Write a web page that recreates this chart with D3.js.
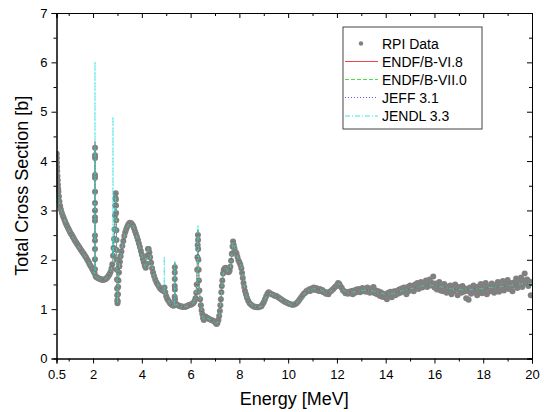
<!DOCTYPE html>
<html>
<head>
<meta charset="utf-8">
<script src="https://cdnjs.cloudflare.com/ajax/libs/d3/7.8.5/d3.min.js"></script>
<style>
  body { margin: 0; background: #fff; }
  text { font-family: "Liberation Sans", Arial, sans-serif; fill: #000; }
</style>
</head>
<body>
<div id="container"></div>
<script>
/* CONSTANTS AND GLOBALS */
const width = 544;
const height = 412;
const margin = { top: 13, right: 12, bottom: 53.5, left: 56.5 };

/* DATA */
// evaluated curve shared by the four libraries, [energy MeV, sigma b]
const evalCurve = [
  [0.5,3.42],[0.6,3.18],[0.7,3.00],[0.8,2.85],[0.9,2.72],[1.0,2.61],[1.1,2.52],[1.2,2.43],[1.3,2.35],
  [1.4,2.27],[1.5,2.20],[1.6,2.13],[1.7,2.05],[1.8,1.96],[1.9,1.87],[2.0,1.79],[2.05,1.74],[2.09,1.67],
  [2.15,1.64],[2.2,1.63],[2.3,1.61],[2.4,1.60],[2.5,1.61],[2.6,1.65],[2.7,1.74],[2.75,1.81],[2.8,1.95],
  [2.84,2.22],[2.88,2.60],[2.91,3.10],[2.93,3.32],[2.95,2.80],[2.97,2.00],[2.99,1.30],[3.0,1.13],
  [3.02,1.30],[3.05,1.65],[3.1,1.96],[3.2,2.28],[3.3,2.54],[3.4,2.67],[3.5,2.74],[3.6,2.72],[3.7,2.62],
  [3.8,2.46],[3.9,2.29],[4.0,2.10],[4.1,1.92],[4.16,1.84],[4.22,2.08],[4.26,2.23],[4.32,2.15],[4.4,1.90],
  [4.5,1.67],[4.6,1.54],[4.7,1.46],[4.8,1.40],[4.9,1.36],[5.0,1.25],[5.1,1.16],[5.2,1.10],[5.3,1.06],
  [5.4,1.10],[5.5,1.08],[5.6,1.06],[5.7,1.05],[5.8,1.05],[5.9,1.07],[6.0,1.09],[6.1,1.12],[6.2,1.22],
  [6.25,1.50],[6.28,2.05],[6.32,2.05],[6.35,1.45],[6.4,1.16],[6.45,0.98],[6.5,0.86],[6.54,0.78],
  [6.58,0.84],[6.65,0.83],[6.75,0.80],[6.85,0.78],[6.95,0.76],[7.05,0.70],[7.12,0.74],[7.19,0.88],
  [7.25,1.22],[7.3,1.55],[7.36,1.80],[7.45,1.84],[7.55,1.75],[7.62,1.80],[7.68,2.05],[7.74,2.37],
  [7.8,2.25],[7.88,2.15],[7.98,1.98],[8.08,1.86],[8.15,1.62],[8.22,1.40],[8.3,1.25],[8.4,1.14],
  [8.5,1.09],[8.7,1.04],[8.9,1.05],[9.0,1.13],[9.1,1.25],[9.2,1.33],[9.3,1.31],[9.45,1.27],[9.65,1.22],
  [9.9,1.15],[10.1,1.10],[10.25,1.09],[10.4,1.15],[10.6,1.28],[10.8,1.37],[11.0,1.41],[11.2,1.41],
  [11.4,1.38],[11.6,1.32],[11.8,1.38],[12.0,1.48],[12.08,1.52],[12.2,1.42],[12.4,1.33],[12.6,1.34],
  [12.8,1.36],[13.2,1.39],[13.6,1.36],[14.0,1.30],[14.3,1.31],[14.7,1.38],[15.1,1.42],[15.5,1.47],
  [15.8,1.49],[16.2,1.46],[16.7,1.41],[17.2,1.39],[17.6,1.40],[18.1,1.43],[18.8,1.46],[19.5,1.51],
  [20.0,1.52]
];

// narrow resonances: energy, foot value, peak value per library
const spikeEnergy = [2.078, 2.817, 4.92, 5.35, 6.30];
const spikeBase   = [1.72, 2.07, 1.36, 1.07, 2.50];
const endf6Peak   = [4.40, 2.30, 1.40, 1.95, 2.60];
const endf7Peak   = [4.30, 2.40, 1.40, 1.95, 2.62];
const jeffPeak    = [4.30, 2.40, 1.40, 1.95, 2.62];
const jendlPeak   = [6.02, 4.90, 2.07, 1.98, 2.71];

// RPI measurement, [energy MeV, sigma b]
const rpiLow = [
  [0.51,4.15],[0.515,4.06],[0.52,3.97],[0.525,3.88],[0.53,3.80],[0.54,3.70],[0.55,3.61],[0.56,3.52],
  [0.57,3.44],[0.58,3.38],[0.60,3.28],[0.62,3.18],[0.65,3.09],[0.68,3.02],[0.72,2.95],[0.76,2.89],
  [0.80,2.84],[0.84,2.79],[0.88,2.74],[0.92,2.70],[0.96,2.66],[1.00,2.62],[1.04,2.58],[1.08,2.54],
  [1.12,2.51],[1.16,2.47],[1.20,2.44],[1.24,2.40],[1.28,2.37],[1.32,2.34],[1.36,2.31],[1.40,2.28],
  [1.44,2.25],[1.48,2.22],[1.52,2.19],[1.56,2.16],[1.60,2.13],[1.64,2.10],[1.68,2.07],[1.72,2.04],
  [1.76,2.00],[1.80,1.97],[1.84,1.93],[1.88,1.89],[1.92,1.86],[1.96,1.82],[2.00,1.79],[2.03,1.76],
  [2.06,1.73],
  [2.076,1.81],[2.077,2.01],[2.077,2.22],[2.078,2.39],[2.078,2.49],[2.078,2.79],[2.079,2.86],
  [2.079,3.00],[2.079,3.15],[2.08,3.38],[2.08,3.66],[2.08,3.72],[2.081,4.06],[2.081,4.12],[2.082,4.27],
  [2.10,1.67],[2.13,1.65],[2.16,1.64],[2.20,1.63],[2.24,1.62],[2.28,1.61],[2.32,1.60],[2.36,1.60],
  [2.40,1.59],[2.44,1.60],[2.48,1.60],[2.52,1.61],[2.56,1.63],[2.60,1.65],[2.64,1.68],[2.68,1.71],
  [2.72,1.76],[2.76,1.83],[2.79,1.91],[2.82,2.08],[2.84,2.24],[2.86,2.42],[2.88,2.62],[2.90,2.90],
  [2.91,3.10],[2.92,3.25],[2.93,3.35],[2.935,3.22],[2.94,3.10],[2.945,2.95],[2.95,2.80],[2.955,2.60],
  [2.96,2.40],[2.965,2.20],[2.97,2.00],[2.975,1.80],[2.98,1.60],[2.985,1.42],[2.99,1.28],[2.995,1.18],
  [3.00,1.12],[3.01,1.16],[3.02,1.30],[3.03,1.45],[3.04,1.58],[3.06,1.74],[3.08,1.87],[3.10,1.96],
  [3.13,2.07],[3.16,2.17],[3.20,2.28],[3.24,2.38],[3.28,2.48],[3.32,2.56],[3.36,2.62],[3.40,2.67],
  [3.44,2.71],[3.48,2.74],[3.52,2.75],[3.56,2.74],[3.60,2.72],[3.64,2.69],[3.68,2.64],[3.72,2.58],
  [3.76,2.52],[3.80,2.46],[3.84,2.40],[3.88,2.33],[3.92,2.26],[3.96,2.18],[4.00,2.10],[4.04,2.02],
  [4.08,1.95],[4.12,1.88],[4.16,1.84],[4.19,1.92],[4.22,2.08],[4.25,2.22],[4.28,2.22],[4.31,2.15],
  [4.34,2.05],[4.38,1.94],[4.42,1.83],[4.46,1.74],[4.50,1.67],[4.55,1.60],[4.60,1.54],[4.65,1.50],
  [4.70,1.46],[4.75,1.42],[4.80,1.40],[4.85,1.38],[4.90,1.37],[4.93,1.44],[4.96,1.34],[5.00,1.26],
  [5.04,1.21],[5.08,1.18],[5.12,1.15],[5.16,1.12],[5.20,1.10],[5.25,1.08],[5.30,1.07],[5.33,1.10],
  [5.345,1.25],[5.348,1.47],[5.35,1.61],[5.35,1.74],[5.352,1.85],[5.355,1.40],[5.36,1.20],
  [5.40,1.11],[5.44,1.09],[5.48,1.08],[5.52,1.07],[5.56,1.06],[5.60,1.06],[5.64,1.05],[5.68,1.05],
  [5.72,1.05],[5.76,1.05],[5.80,1.05],[5.84,1.06],[5.88,1.07],[5.92,1.08],[5.96,1.09],[6.00,1.09],
  [6.04,1.10],[6.08,1.11],[6.12,1.13],[6.16,1.16],[6.20,1.22],[6.23,1.33],[6.25,1.50],[6.27,1.80],
  [6.28,2.05],[6.29,2.30],[6.30,2.50],[6.305,2.40],[6.31,2.22],[6.32,2.00],[6.33,1.80],[6.34,1.58],
  [6.36,1.38],[6.39,1.20],[6.42,1.08],[6.45,0.98],[6.48,0.90],[6.51,0.82],[6.54,0.78],[6.57,0.83],
  [6.61,0.85],[6.65,0.83],[6.70,0.82],[6.75,0.80],[6.80,0.79],[6.85,0.78],[6.90,0.77],[6.95,0.76],
  [7.00,0.74],[7.04,0.71],[7.07,0.70],[7.10,0.72],[7.14,0.78],[7.17,0.86],[7.20,0.96],[7.22,1.08],
  [7.24,1.20],[7.26,1.34],[7.28,1.47],[7.30,1.58],[7.33,1.72],[7.36,1.80],[7.40,1.83],[7.44,1.84],
  [7.48,1.80],[7.52,1.76],[7.56,1.75],[7.60,1.78],[7.63,1.86],[7.66,1.98],[7.69,2.12],[7.72,2.27],
  [7.74,2.37],[7.77,2.30],[7.80,2.23],[7.84,2.16],[7.88,2.13],[7.92,2.06],[7.96,1.99],[8.00,1.95],
  [8.04,1.90],[8.08,1.83],[8.11,1.73],[8.14,1.63],[8.17,1.53],[8.20,1.45],[8.23,1.37],[8.27,1.30],
  [8.31,1.23],[8.36,1.17],[8.42,1.12],[8.48,1.09],[8.54,1.07],[8.60,1.05],[8.66,1.05],[8.72,1.04],
  [8.78,1.04],[8.84,1.05],[8.90,1.06],[8.95,1.10],[9.00,1.14],[9.05,1.20],[9.10,1.26],[9.15,1.31],
  [9.20,1.34],[9.26,1.32],[9.32,1.30],[9.38,1.29],[9.44,1.27],[9.50,1.27],[9.56,1.25],[9.62,1.23],
  [9.68,1.21],[9.74,1.19],[9.80,1.17],[9.86,1.15],[9.92,1.14],[9.98,1.12],[10.04,1.11],[10.10,1.10],
  [10.16,1.09],[10.22,1.09],[10.28,1.10],[10.34,1.12],[10.40,1.15],[10.46,1.19],[10.52,1.23],
  [10.58,1.27],[10.64,1.31]
];

const rpiHigh = [
  [10.70,1.33],[10.75,1.37],[10.80,1.36],[10.85,1.40],[10.90,1.37],[10.95,1.42],[11.00,1.40],
  [11.05,1.44],[11.10,1.39],[11.15,1.43],[11.20,1.40],[11.25,1.37],[11.30,1.41],[11.35,1.36],
  [11.40,1.39],[11.45,1.34],[11.50,1.35],[11.55,1.31],[11.60,1.33],[11.65,1.30],[11.70,1.35],
  [11.75,1.36],[11.80,1.39],[11.85,1.41],[11.90,1.44],[11.95,1.46],[12.00,1.49],[12.05,1.53],
  [12.10,1.51],[12.15,1.46],[12.20,1.43],[12.25,1.38],[12.30,1.36],[12.35,1.32],[12.40,1.34],
  [12.45,1.31],[12.50,1.35],[12.55,1.32],[12.60,1.37],[12.65,1.30],[12.70,1.38],[12.75,1.33],
  [12.80,1.40],[12.85,1.35],[12.90,1.41],[12.95,1.34],[13.00,1.39],[13.05,1.43],[13.10,1.36],
  [13.15,1.41],[13.20,1.35],[13.25,1.44],[13.30,1.38],[13.35,1.33],[13.40,1.42],[13.45,1.36],
  [13.50,1.45],[13.55,1.32],[13.60,1.38],[13.65,1.30],[13.70,1.36],[13.75,1.27],[13.80,1.34],
  [13.85,1.25],[13.90,1.31],[13.95,1.24],[14.00,1.30],[14.05,1.20],[14.10,1.33],[14.15,1.27],
  [14.20,1.35],[14.25,1.24],[14.30,1.29],[14.35,1.36],[14.40,1.28],[14.45,1.37],[14.50,1.31],
  [14.55,1.40],[14.60,1.33],[14.65,1.42],[14.70,1.35],[14.75,1.44],[14.80,1.38],[14.85,1.30],
  [14.90,1.45],[14.95,1.37],[15.00,1.48],[15.05,1.40],[15.10,1.46],[15.15,1.36],[15.20,1.50],
  [15.25,1.43],[15.30,1.53],[15.35,1.41],[15.40,1.49],[15.45,1.55],[15.50,1.44],[15.55,1.52],
  [15.60,1.47],[15.65,1.58],[15.70,1.45],[15.75,1.51],[15.80,1.60],[15.85,1.48],[15.90,1.53],
  [15.95,1.66],[16.00,1.44],[16.05,1.52],[16.10,1.40],[16.15,1.49],[16.20,1.55],[16.25,1.38],
  [16.30,1.47],[16.35,1.36],[16.40,1.51],[16.45,1.42],[16.50,1.33],[16.55,1.46],[16.60,1.39],
  [16.65,1.48],[16.70,1.30],[16.75,1.43],[16.80,1.36],[16.85,1.50],[16.90,1.41],[16.95,1.28],
  [17.00,1.45],[17.05,1.38],[17.10,1.33],[17.15,1.47],[17.20,1.35],[17.25,1.42],[17.30,1.22],
  [17.35,1.37],[17.40,1.19],[17.45,1.44],[17.50,1.31],[17.55,1.40],[17.60,1.48],[17.65,1.34],
  [17.70,1.43],[17.75,1.28],[17.80,1.46],[17.85,1.37],[17.90,1.51],[17.95,1.32],[18.00,1.45],
  [18.05,1.39],[18.10,1.53],[18.15,1.30],[18.20,1.47],[18.25,1.41],[18.30,1.36],[18.35,1.52],
  [18.40,1.44],[18.45,1.33],[18.50,1.49],[18.55,1.40],[18.60,1.55],[18.65,1.35],[18.70,1.47],
  [18.75,1.42],[18.80,1.57],[18.85,1.38],[18.90,1.50],[18.95,1.44],[19.00,1.59],[19.05,1.41],
  [19.10,1.53],[19.15,1.46],[19.20,1.36],[19.25,1.54],[19.30,1.48],[19.35,1.62],[19.40,1.43],
  [19.45,1.56],[19.50,1.49],[19.55,1.64],[19.60,1.45],[19.65,1.58],[19.70,1.72],[19.75,1.52],
  [19.80,1.60],[19.85,1.47],[19.90,1.56],[19.95,1.28],[20.00,1.53]
];

const xMajorTicks = [0.5, 2, 4, 6, 8, 10, 12, 14, 16, 18, 20];
const xMinorTicks = [1, 3, 5, 7, 9, 11, 13, 15, 17, 19];
const yMajorTicks = [0, 1, 2, 3, 4, 5, 6, 7];
const yMinorTicks = [0.5, 1.5, 2.5, 3.5, 4.5, 5.5, 6.5];

const seriesNames = ["ENDF/B-VI.8", "ENDF/B-VII.0", "JEFF 3.1", "JENDL 3.3"];
const seriesPeaks = [endf6Peak, endf7Peak, jeffPeak, jendlPeak];
const seriesColors = ["#ee3030", "#30e030", "#4848e0", "#30e0e0"];
const seriesDash = [null, "4,2", "1,2", "5,2,1,2"];

/* SCALES */
const xScale = d3.scaleLinear()
  .domain([0.5, 20])
  .range([margin.left, width - margin.right]);

const yScale = d3.scaleLinear()
  .domain([0, 7])
  .range([height - margin.bottom, margin.top]);

/* HTML ELEMENTS */
const svg = d3.select("#container")
  .append("svg")
  .attr("width", width)
  .attr("height", height);

svg.append("clipPath")
  .attr("id", "plotClip")
  .append("rect")
  .attr("x", margin.left)
  .attr("y", margin.top)
  .attr("width", width - margin.left - margin.right)
  .attr("height", height - margin.top - margin.bottom);

const plot = svg.append("g").attr("clip-path", "url(#plotClip)");

// measured points
plot.selectAll("circle.rpi")
  .data(rpiLow.concat(rpiHigh))
  .join("circle")
  .attr("class", "rpi")
  .attr("cx", d => xScale(d[0]))
  .attr("cy", d => yScale(d[1]))
  .attr("r", 3)
  .attr("fill", "#808080");

// evaluation lines
const line = d3.line()
  .x(d => xScale(d[0]))
  .y(d => yScale(d[1]));

seriesPeaks.forEach((peaks, i) => {
  const pts = evalCurve.slice();
  spikeEnergy.forEach((e, j) => {
    pts.push([e - 0.005, spikeBase[j]], [e, peaks[j]], [e + 0.005, spikeBase[j]]);
  });
  pts.sort((a, b) => a[0] - b[0]);
  plot.append("path")
    .datum(pts)
    .attr("d", line)
    .attr("fill", "none")
    .attr("stroke", seriesColors[i])
    .attr("stroke-width", 0.7)
    .attr("stroke-dasharray", seriesDash[i]);
});

/* AXES */
const bottom = height - margin.bottom;
const right = width - margin.right;

svg.append("g")
  .attr("transform", `translate(0,${bottom})`)
  .call(d3.axisBottom(xScale).tickValues(xMajorTicks).tickSize(5).tickPadding(6)
    .tickFormat(d => d === 0.5 ? "0.5" : d3.format("d")(d)));
svg.append("g")
  .attr("transform", `translate(0,${bottom})`)
  .call(d3.axisBottom(xScale).tickValues(xMinorTicks).tickSize(3).tickFormat(""));
svg.append("g")
  .attr("transform", `translate(0,${margin.top})`)
  .call(d3.axisTop(xScale).tickValues(xMajorTicks).tickSize(-5).tickFormat(""));
svg.append("g")
  .attr("transform", `translate(0,${margin.top})`)
  .call(d3.axisTop(xScale).tickValues(xMinorTicks).tickSize(-3).tickFormat(""));

svg.append("g")
  .attr("transform", `translate(${margin.left},0)`)
  .call(d3.axisLeft(yScale).tickValues(yMajorTicks).tickSize(5).tickPadding(4)
    .tickFormat(d3.format("d")));
svg.append("g")
  .attr("transform", `translate(${margin.left},0)`)
  .call(d3.axisLeft(yScale).tickValues(yMinorTicks).tickSize(3).tickFormat(""));
svg.append("g")
  .attr("transform", `translate(${right},0)`)
  .call(d3.axisRight(yScale).tickValues(yMajorTicks).tickSize(-5).tickFormat(""));
svg.append("g")
  .attr("transform", `translate(${right},0)`)
  .call(d3.axisRight(yScale).tickValues(yMinorTicks).tickSize(-3).tickFormat(""));

svg.selectAll(".tick text")
  .style("font-family", '"Liberation Sans", Arial, sans-serif')
  .style("font-size", "13px")
  .attr("fill", "#000");
svg.selectAll(".domain, .tick line").attr("stroke", "#000");

// axis titles
svg.append("text")
  .attr("x", (margin.left + right) / 2)
  .attr("y", 405)
  .attr("text-anchor", "middle")
  .style("font-size", "18px")
  .text("Energy [MeV]");

svg.append("text")
  .attr("transform", `translate(28,${(margin.top + bottom) / 2}) rotate(-90)`)
  .attr("text-anchor", "middle")
  .style("font-size", "18px")
  .text("Total Cross Section [b]");

/* LEGEND */
const legend = svg.append("g").attr("transform", "translate(343,27)");
legend.append("rect")
  .attr("width", 139)
  .attr("height", 102)
  .attr("fill", "#fff")
  .attr("stroke", "#444")
  .attr("stroke-width", 1);

const rowY = [16.5, 34.5, 52.5, 70.5, 89];
legend.append("circle")
  .attr("cx", 18)
  .attr("cy", rowY[0])
  .attr("r", 2.2)
  .attr("fill", "#808080");
legend.append("text")
  .attr("x", 39)
  .attr("y", rowY[0])
  .attr("dy", "0.36em")
  .style("font-size", "14px")
  .text("RPI Data");

seriesNames.forEach((name, i) => {
  legend.append("line")
    .attr("x1", 2).attr("x2", 35)
    .attr("y1", rowY[i + 1]).attr("y2", rowY[i + 1])
    .attr("stroke", seriesColors[i])
    .attr("stroke-width", 0.9)
    .attr("stroke-dasharray", seriesDash[i]);
  legend.append("text")
    .attr("x", 39)
    .attr("y", rowY[i + 1])
    .attr("dy", "0.36em")
    .style("font-size", "14px")
    .text(name);
});
</script>
</body>
</html>
